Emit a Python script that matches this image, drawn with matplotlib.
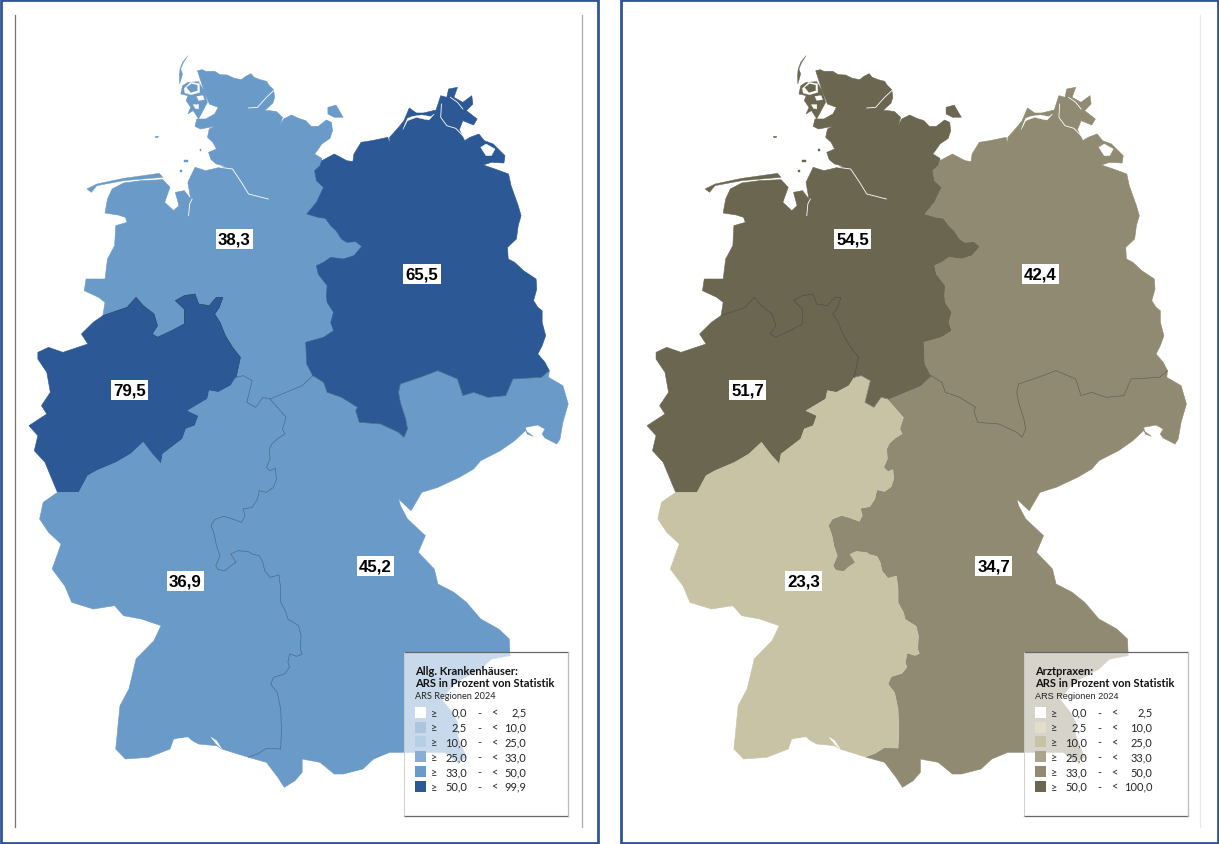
import matplotlib
matplotlib.use("Agg")
import matplotlib.pyplot as plt
from matplotlib.patches import Polygon, Rectangle

W, H = 1219, 845

def low(pts):
    return [(x, y + 1170) for x, y in pts]

# ---- map outlines (map units) ----
N_COAST = [(497,95),(510,92),(520,97),(545,97),(560,107),(580,108),(600,118),(620,122),(632,112),(647,104),(655,115),(672,122),(690,127),(698,140),(710,152),(713,175),(708,192),(695,205),(685,215),(700,215),(718,218),(735,235),(728,260),(738,240),(760,228),(780,238),(800,245),(815,262),(835,262),(858,243),(872,250),(875,275),(868,298),(845,315),(832,335),(825,345),(845,358),(845,365)]
NE_BORDER = [(845,365),(840,380),(825,395),(830,425),(850,445),(830,490),(803,525),(835,535),(855,538),(870,560),(885,575),(900,600),(915,610),(940,608),(957,622),(935,650),(905,660),(870,655),(850,670),(830,680),(835,705),(860,740),(858,770),(860,790),(878,820),(870,850),(878,875),(850,895),(800,910),(803,975),(820,1010)]
N_S_BORDER = [(820,1010),(790,1040),(745,1060),(700,1080),(680,1075),(660,1105),(635,1090),(650,1025),(625,1010),(605,1015)]
N_NRW_BORDER = [(605,1015),(617,955),(595,925),(575,890),(560,850),(545,825),(558,805),(568,775),(550,775),(530,800),(500,795),(490,765),(460,770),(435,785),(460,810),(460,855),(425,875),(385,895),(370,885),(385,860),(375,825),(345,800),(325,775),(300,805),(232,830)]
N_WEST_COAST = [(232,830),(238,790),(220,775),(180,755),(185,720),(238,720),(245,660),(265,620),(268,560),(300,550),(295,535),(275,528),(238,522),(245,480),(258,450),(290,432),(340,425),(400,422),(420,445),(405,490),(430,515),(445,500),(435,460),(460,455),(478,480),(470,430),(490,385),(520,395),(560,385),(575,382),(550,375),(535,362),(528,340),(550,330),(540,310),(525,295),(530,270),(545,262),(505,270),(490,262),(495,240),(520,240),(545,225),(555,205),(530,195),(515,155),(497,95)]
E_COAST = [(845,365),(880,345),(915,365),(932,368),(935,345),(955,310),(985,305),(1030,295),(1035,315),(1035,295),(1060,265),(1075,245),(1090,207),(1110,222),(1130,222),(1165,213),(1178,170),(1195,175),(1200,150),(1225,145),(1215,175),(1240,190),(1265,170),(1268,195),(1250,215),(1280,240),(1270,258),(1240,245),(1230,272),(1245,305),(1260,295),(1285,285),(1300,305),(1325,315),(1358,350),(1355,372),(1320,370),(1297,378),(1330,390),(1368,405),(1375,440),(1385,470),(1395,500),(1403,530),(1395,560),(1390,600),(1365,625),(1367,660),(1385,670),(1410,695),(1445,720),(1447,750),(1438,785),(1450,805),(1462,815),(1462,850),(1472,890),(1462,920),(1450,945),(1470,970),(1482,995)]
E_S_BORDER = [(1482,995),(1460,1015),(1380,1020),(1368,1050),(1360,1070),(1310,1075),(1270,1060),(1240,1070),(1225,1020),(1170,995),(1120,1015),(1065,1035),(1060,1060),(1065,1090),(1080,1140),(1085,1170),(1075,1195),(1060,1180),(1010,1155),(950,1150),(940,1115),(945,1105),(900,1075),(860,1060),(850,1030),(820,1010)]
BY_EAST_TOP = [(1482,995),(1480,1015),(1520,1040),(1535,1095),(1520,1150),(1512,1200),(1503,1215),(1470,1197),(1462,1185),(1470,1170),(1450,1158),(1415,1165),(1420,1185),(1437,1192)]
BY_COAST = low([(1415,5),(1385,35),(1345,65),(1290,95),(1270,120),(1230,145),(1170,175),(1125,190),(1095,245),(1060,210),(1065,230),(1085,270),(1115,300),(1135,320),(1115,370),(1160,420),(1170,465),(1215,490),(1250,520),(1290,570),(1340,600),(1370,630),(1372,680),(1320,690),(1290,720),(1220,760),(1180,810),(1210,850),(1225,880),(1225,920),(1250,985),(1225,1000),(1190,970),(1075,970),(1035,970),(990,990),(960,1020),(905,1035),(880,1035),(840,1000),(790,990),(790,1030),(770,1055),(740,1075),(722,1045),(690,1000),(640,985)])
SW_BY_BORDER = low([(640,985),(665,975),(690,958),(730,960),(732,900),(730,840),(720,790),(702,765),(710,745),(740,735),(755,715),(750,700),(755,675),(775,682),(790,675),(785,660),(787,620),(780,590),(750,570),(745,550),(730,520),(730,480),(725,438),(700,445),(685,425),(680,400),(670,380),(650,375),(640,368),(610,365),(590,375),(605,400),(590,410),(575,425),(555,422),(548,410),(560,380),(550,350),(545,320),(535,290),(545,272),(570,262),(590,268),(620,280),(630,260),(625,240),(650,235),(665,210),(670,185),(690,190),(710,175),(718,150),(715,118),(700,125),(690,115),(700,90),(698,60),(705,45),(720,30),(742,15),(735,0)]) + [(745,1135),(700,1080)]
NRW_SW_BORDER = [(605,1015),(590,1040),(555,1060),(530,1055),(525,1080),(470,1115),(500,1130),(490,1160),(465,1170)] + low([(465,0),(455,30),(400,75),(395,105),(370,75),(345,40),(310,75),(270,100),(215,125),(190,140),(165,190),(105,190)])
NRW_WEST = low([(105,190),(95,165),(70,100),(40,65),(50,20)]) + [(25,1160),(75,1125),(60,1100),(85,1060),(75,1000),(50,960),(50,940),(80,925),(120,940),(190,915),(172,885),(205,850),(232,830)]
SW_WEST = low([(105,190),(65,220),(55,270),(80,310),(115,345),(90,420),(125,470),(145,520),(205,540),(265,530),(290,560),(340,570),(395,590),(375,635),(325,690),(305,780),(280,830),(268,960),(295,990),(360,985),(420,960),(430,930),(465,925),(500,945),(550,950),(565,960),(640,985)])
N_ISLANDS = [
    [(470,50),(458,70),(450,90),(455,105),(447,135),(446,110),(448,90),(455,70)],
    [(455,140),(470,130),(500,128),(515,155),(525,190),(500,240),(485,215),(470,225),(478,205),(465,185),(470,170),(450,165)],
    [(862,205),(885,198),(905,235),(880,235),(862,225)],
    [(187,450),(215,435),(290,418),(390,403),(400,415),(290,425),(215,440),(200,460)],
    [(378,292),(388,292),(386,296),(380,296)],
    [(503,330),(508,330),(508,337),(503,337)],
    [(460,362),(470,362),(470,370),(460,370)],
    [(448,392),(454,392),(454,398),(448,398)],
]
N_INNER_ISLAND = [(466,145),(480,134),(497,138),(497,155),(478,161)]
WATER_SPOTS = [
    [(460,148),(478,130),(502,134),(503,160),(480,167),(462,162)],
    [(495,172),(512,170),(516,182),(500,184)],
    [(485,197),(500,197),(500,210),(491,208)],
    [(522,203),(532,207),(524,218)],
    [(1072,272),(1085,245),(1110,235),(1130,240),(1145,243),(1160,225),(1150,233),(1125,228),(1100,232),(1085,238)],
    [(1290,325),(1305,315),(1330,330),(1320,350),(1305,350)],
]
WATER_LINES = [
    [(560,385),(595,390),(620,430),(640,465),(695,480)],
    [(640,207),(665,205),(690,175),(710,155)],
    [(472,530),(475,495),(482,480)],
    [(1180,195),(1178,235),(1195,260),(1220,268),(1240,290)],
    [(1205,175),(1225,190),(1240,210)],
]

REGION_NORTH = N_COAST + NE_BORDER + N_S_BORDER + N_NRW_BORDER + N_WEST_COAST
REGION_EAST = E_COAST + E_S_BORDER + NE_BORDER[::-1]
REGION_NRW = N_NRW_BORDER[::-1] + NRW_SW_BORDER + NRW_WEST
REGION_BY = BY_EAST_TOP + BY_COAST + SW_BY_BORDER + N_S_BORDER[:4][::-1] + E_S_BORDER[::-1]
REGION_SW = N_S_BORDER[3:] + NRW_SW_BORDER + SW_WEST + SW_BY_BORDER
BODENSEE = [low([(425,955),(440,930),(470,925),(490,945),(465,962)]), low([(535,925),(550,935),(565,960),(550,945)])]

REGIONS = {"north": REGION_NORTH, "east": REGION_EAST, "nrw": REGION_NRW, "south": REGION_BY, "west": REGION_SW}
BORDERS = [SW_BY_BORDER, N_S_BORDER, E_S_BORDER, N_NRW_BORDER]

# ---- values ----
LEFT_VALUES = {"north": "38,3", "east": "65,5", "nrw": "79,5", "west": "36,9", "south": "45,2"}
RIGHT_VALUES = {"north": "54,5", "east": "42,4", "nrw": "51,7", "west": "23,3", "south": "34,7"}
LEFT_COLORS = {"north": "#6A9AC8", "east": "#2C5895", "nrw": "#2C5895", "west": "#6A9AC8", "south": "#6A9AC8"}
RIGHT_COLORS = {"north": "#6B6650", "east": "#8F8A71", "nrw": "#6B6650", "west": "#C9C3A5", "south": "#8F8A71"}
LABEL_POS = {"north": (600, 600), "east": (1126, 705), "nrw": (306, 1053), "west": (463, 1625), "south": (995, 1581)}

LEFT_LOW = ["0,0", "2,5", "10,0", "25,0", "33,0", "50,0"]
LEFT_HIGH = ["2,5", "10,0", "25,0", "33,0", "50,0", "99,9"]
RIGHT_HIGH = ["2,5", "10,0", "25,0", "33,0", "50,0", "100,0"]
LEFT_SWATCH = ["#FFFFFF", "#ADC6E0", "#B7CFE5", "#88AFD3", "#6A9AC8", "#2C5895"]
RIGHT_SWATCH = ["#FFFFFF", "#E2DDC6", "#C9C3A5", "#A9A58C", "#8F8A71", "#6B6650"]

fig = plt.figure(figsize=(W/100, H/100), dpi=100)
bg = fig.add_axes([0, 0, 1, 1]); bg.set_xlim(0, W); bg.set_ylim(H, 0); bg.axis("off")

CAL = ["Lato", "DejaVu Sans"]

def panel(x0, frame_x, frame_w, lx, values, colors, title, high, swatch, sub_font, high_x, vlines):
    bg.add_patch(Rectangle((frame_x, 1), frame_w, H-2.5, fc="white", ec="#2F5597", lw=2))
    for vx, c in vlines:
        bg.plot([vx, vx], [16, 828], color=c, lw=0.9)
    ax = fig.add_axes([x0/W, 1-(40+800)/H, 560/W, 800/H])
    ax.set_xlim(0, 1568); ax.set_ylim(2400, 0); ax.axis("off"); ax.patch.set_alpha(0)
    for k, pts in REGIONS.items():
        ax.add_patch(Polygon(pts, closed=True, fc=colors[k], ec=colors[k], lw=0.4, zorder=2))
    for p in N_ISLANDS:
        ax.add_patch(Polygon(p, closed=True, fc=colors["north"], ec=colors["north"], lw=0.3, zorder=2))
    for p in WATER_SPOTS + BODENSEE:
        ax.add_patch(Polygon(p, closed=True, fc="white", ec="white", lw=0.3, zorder=3))
    ax.add_patch(Polygon(N_INNER_ISLAND, closed=True, fc=colors["north"], ec="none", zorder=3.1))
    for w in WATER_LINES:
        xs, ys = zip(*w)
        ax.plot(xs, ys, color="white", lw=0.6, zorder=3)
    for b in BORDERS:
        xs, ys = zip(*b)
        ax.plot(xs, ys, color="#1c2a3a", lw=0.4, alpha=.55, zorder=3)
    for k, txt in values.items():
        x, y = LABEL_POS[k]
        ax.text(x, y, txt, ha="center", va="center", fontsize=12.2, fontweight="bold",
                family="Liberation Sans", color="black", zorder=5,
                bbox=dict(fc="white", ec="none", boxstyle="square,pad=0.14"))
    # legend box
    top = fig.add_axes([0, 0, 1, 1]); top.set_xlim(0, W); top.set_ylim(H, 0); top.axis("off"); top.patch.set_alpha(0)
    top.add_patch(Rectangle((lx, 653), 164, 164, fc="white", ec="none", alpha=0.63, zorder=6))
    top.plot([lx, lx+164], [653, 653], color="#666666", lw=0.9, zorder=7)
    top.plot([lx, lx+164], [817, 817], color="#666666", lw=0.9, zorder=7)
    top.plot([lx+164, lx+164], [653, 817], color="#bbbbbb", lw=0.9, zorder=7)
    top.plot([lx, lx], [653, 817], color="#c8c8c8", lw=0.6, zorder=7)
    tx = lx + 11
    top.text(tx, 671.5, title, fontsize=8.0, fontweight="bold", family=CAL, va="center", zorder=8, color="#111111")
    top.text(tx, 684, "ARS in Prozent von Statistik", fontsize=8.0, fontweight="bold", family=CAL, va="center", zorder=8, color="#111111")
    top.text(tx, 696.5, "ARS Regionen 2024", fontsize=6.6, family=sub_font, va="center", zorder=8, color="#222222")
    for i in range(6):
        y = 713.3 + i*14.8
        top.add_patch(Rectangle((tx, y-5.5), 11, 11, fc=swatch[i], ec="none", zorder=8))
        kw = dict(fontsize=7.9, family=CAL, va="center", zorder=8, color="#222222")
        top.text(tx+19, y, "≥", ha="center", **kw)
        top.text(tx+52, y, LEFT_LOW[i], ha="right", **kw)
        top.text(tx+64, y, "-", ha="center", **kw)
        top.text(tx+79, y, "<", ha="center", **kw)
        top.text(tx+high_x, y, high[i], ha="right", **kw)

panel(20, 1, 597, 404, LEFT_VALUES, LEFT_COLORS, "Allg. Krankenhäuser:", LEFT_HIGH, LEFT_SWATCH, CAL, 111.5, [(15, "#777777"), (582, "#aaaaaa")])
panel(638.2, 621, 597, 1024, RIGHT_VALUES, RIGHT_COLORS, "Arztpraxen:", RIGHT_HIGH, RIGHT_SWATCH, ["Liberation Sans"], 117.5, [(1200, "#e8e8e8")])

fig.savefig("out.png", dpi=100)
